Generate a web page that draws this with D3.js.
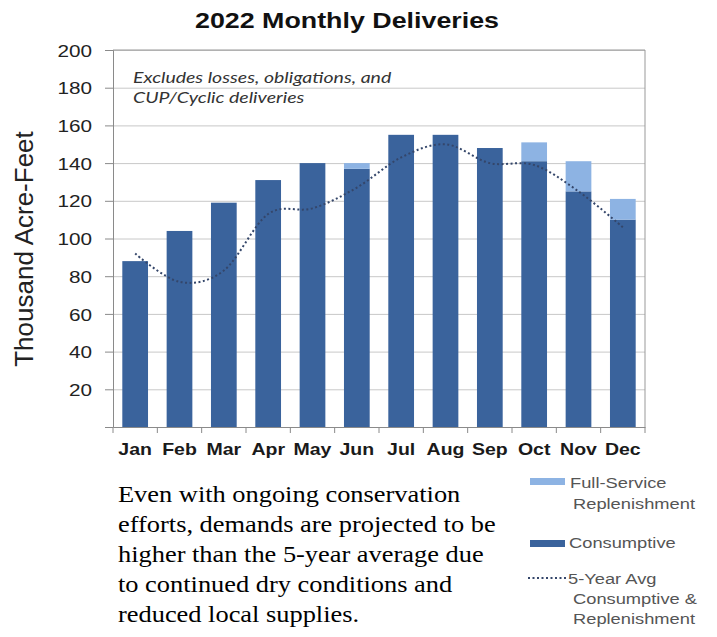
<!DOCTYPE html>
<html>
<head>
<meta charset="utf-8">
<script src="https://cdn.jsdelivr.net/npm/d3@7"></script>
<style>
  body { margin: 0; background: #fff; }
  text { font-family: "Liberation Sans", Arial, sans-serif; }
</style>
</head>
<body>
<div id="chart"></div>
<script>
// chart values (thousand acre-feet)
const months = ["Jan", "Feb", "Mar", "Apr", "May", "Jun", "Jul", "Aug", "Sep", "Oct", "Nov", "Dec"];
const consumptive = [88, 104, 119, 131, 140, 137, 155, 155, 148, 141, 125, 110];
const replenishment = [0, 0, 0, 0, 0, 3, 0, 0, 0, 10, 16, 11];
const fiveYearAvg = [92, 77, 83, 113, 116, 127, 143, 150, 140, 139, 125, 106];
const yTicks = [20, 40, 60, 80, 100, 120, 140, 160, 180, 200];
const noteLines = ["Excludes losses, obligations, and", "CUP/Cyclic deliveries"];
const paragraph = [
  "Even with ongoing conservation",
  "efforts, demands are projected to be",
  "higher than the 5-year average due",
  "to continued dry conditions and",
  "reduced local supplies."
];

const W = 717, H = 637;
const plot = {left: 113, right: 645, top: 50, bottom: 427};
const darkBlue = "#3a639c", lightBlue = "#8db3e3";
const sx = 1.22; // the source text is drawn a little wide

const svg = d3.select("#chart")
  .append("svg")
    .attr("width", W)
    .attr("height", H);

svg.append("rect").attr("width", W).attr("height", H).attr("fill", "#fff");

const x = d3.scaleBand()
  .domain(months)
  .range([plot.left, plot.right])
  .paddingInner(0.42)
  .paddingOuter(0.21);

const y = d3.scaleLinear()
  .domain([0, 200])
  .range([plot.bottom, plot.top]);

// title
svg.append("text")
  .attr("transform", `translate(195,28) scale(${sx},1)`)
  .style("font-size", "22px")
  .style("font-weight", "bold")
  .style("fill", "#111")
  .text("2022 Monthly Deliveries");

// gridlines
const grid = svg.append("g")
  .attr("transform", `translate(${plot.left},0)`)
  .call(d3.axisLeft(y).tickValues(yTicks).tickSize(-(plot.right - plot.left)).tickFormat(""));
grid.select(".domain").remove();
grid.selectAll("line").attr("stroke", "#c8c8c8");

// plot frame (top + right)
svg.append("path")
  .attr("d", `M${plot.left},${y(200)}H${plot.right}V${plot.bottom}`)
  .attr("fill", "none")
  .attr("stroke", "#999");

// y axis
const yAxis = svg.append("g")
  .attr("transform", `translate(${plot.left},0)`)
  .call(d3.axisLeft(y).tickValues([0].concat(yTicks)).tickSize(8).tickPadding(0)
    .tickFormat(d => d === 0 ? "" : d));
yAxis.select(".domain").attr("stroke", "#8a8a8a");
yAxis.selectAll(".tick line").attr("stroke", "#8a8a8a");
yAxis.selectAll(".tick text")
  .attr("x", null)
  .attr("dy", "0.36em")
  .attr("transform", `translate(-21,0) scale(${sx},1)`)
  .style("font-size", "17px")
  .style("fill", "#222");

svg.append("text")
  .attr("transform", "translate(33,249) rotate(-90)")
  .attr("text-anchor", "middle")
  .style("font-size", "26px")
  .style("fill", "#222")
  .text("Thousand Acre-Feet");

// note inside the plot
svg.append("g").selectAll("text")
  .data(noteLines)
  .join("text")
    .attr("transform", (d, i) => `translate(133,${83 + i * 20}) scale(${sx},1)`)
    .style("font-family", "Lato, 'Open Sans', sans-serif")
    .style("font-style", "italic")
    .style("font-size", "16px")
    .style("fill", "#333")
    .text(d => d);

// stacked bars
const rows = months.map((m, i) => ({month: m, consumptive: consumptive[i], replenishment: replenishment[i]}));
const series = d3.stack().keys(["consumptive", "replenishment"])(rows);
const color = d3.scaleOrdinal().domain(["consumptive", "replenishment"]).range([darkBlue, lightBlue]);

svg.append("g").selectAll("g")
  .data(series)
  .join("g")
    .attr("fill", d => color(d.key))
  .selectAll("rect")
  .data(d => d)
  .join("rect")
    .attr("x", d => x(d.data.month))
    .attr("y", d => y(d[1]))
    .attr("width", x.bandwidth())
    .attr("height", d => y(d[0]) - y(d[1]));

// x axis
const xAxis = svg.append("g")
  .attr("transform", `translate(0,${plot.bottom})`)
  .call(d3.axisBottom(x).tickSize(0));
xAxis.select(".domain").attr("stroke", "#8a8a8a");
xAxis.selectAll(".tick text")
  .attr("y", null)
  .attr("dy", null)
  .attr("transform", `translate(0,28) scale(${sx},1)`)
  .style("font-size", "16px")
  .style("font-weight", "bold")
  .style("fill", "#1a1a1a");

// category boundary ticks
xAxis.selectAll(".bound")
  .data(d3.range(months.length + 1))
  .join("line")
    .attr("class", "bound")
    .attr("x1", i => plot.left + i * x.step())
    .attr("x2", i => plot.left + i * x.step())
    .attr("y1", 0)
    .attr("y2", 6)
    .attr("stroke", "#8a8a8a");

// 5-year average, smoothed dotted line
const line = d3.line()
  .x((d, i) => x(months[i]) + x.bandwidth() / 2)
  .y(d => y(d))
  .curve(d3.curveCardinal.tension(0));

svg.append("path")
  .datum(fiveYearAvg)
  .attr("d", line)
  .attr("fill", "none")
  .attr("stroke", "#34466a")
  .attr("stroke-width", 2)
  .attr("stroke-dasharray", "2,2.5");

// legend
const legend = svg.append("g").style("fill", "#555");
legend.append("rect").attr("x", 530).attr("y", 478).attr("width", 35).attr("height", 7).attr("fill", lightBlue);
legend.append("rect").attr("x", 530).attr("y", 540).attr("width", 35).attr("height", 7).attr("fill", darkBlue);
legend.append("line")
  .attr("x1", 528).attr("x2", 566).attr("y1", 578).attr("y2", 578)
  .attr("stroke", "#34466a").attr("stroke-width", 2).attr("stroke-dasharray", "2,2.5");

const legendText = [
  {t: "Full-Service", x: 570, y: 488},
  {t: "Replenishment", x: 573, y: 509},
  {t: "Consumptive", x: 569, y: 548},
  {t: "5-Year Avg", x: 568, y: 584},
  {t: "Consumptive &", x: 573, y: 604},
  {t: "Replenishment", x: 573, y: 624}
];
legend.selectAll("text")
  .data(legendText)
  .join("text")
    .attr("transform", d => `translate(${d.x},${d.y}) scale(${sx},1)`)
    .style("font-size", "15px")
    .text(d => d.t);

// paragraph below the chart
svg.append("g").selectAll("text")
  .data(paragraph)
  .join("text")
    .attr("transform", (d, i) => `translate(118,${502 + i * 30}) scale(1.1,1)`)
    .style("font-family", "'Liberation Serif', 'Times New Roman', serif")
    .style("font-size", "24px")
    .style("fill", "#000")
    .text(d => d);
</script>
</body>
</html>
